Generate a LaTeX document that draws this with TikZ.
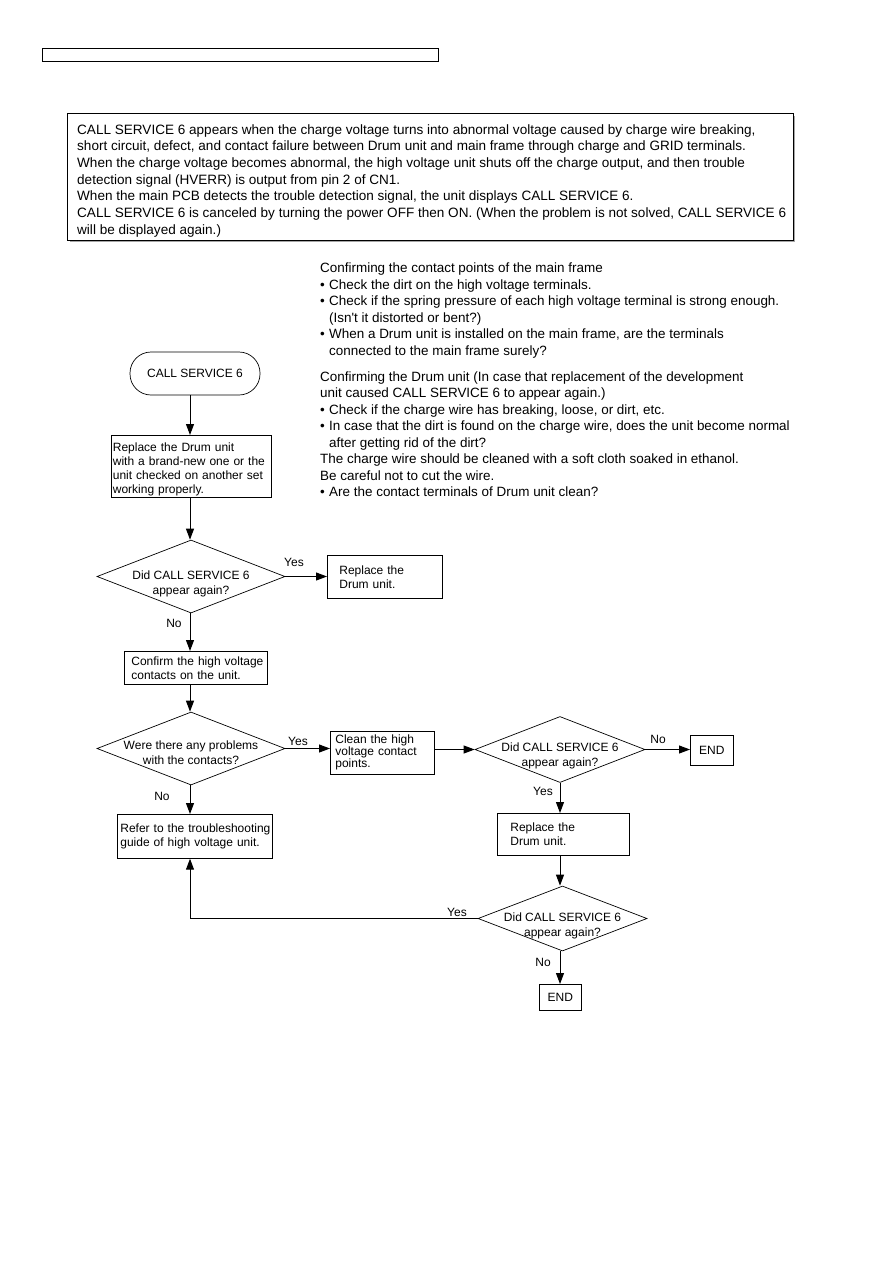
\documentclass[tikz,border=0pt]{standalone}
\usepackage{fontspec}
\setmainfont{Liberation Sans}[Ligatures=TeXOff]
\usetikzlibrary{arrows.meta,shapes.geometric,calc}
\begin{document}
\begin{tikzpicture}[x=1pt,y=-1pt,
  box/.style={draw, line width=0.7pt, rectangle, anchor=north west, inner ysep=0pt, align=left, font=\fontsize{12}{14}\selectfont},
  dia/.style={draw, diamond, line width=0.7pt, inner sep=0pt},
  dtext/.style={align=center, font=\fontsize{12}{15}\selectfont, yshift=-7pt},
  arr/.style={line width=1pt, -{Triangle[length=11pt,width=8pt]}},
  lbl/.style={font=\fontsize{12}{13}\selectfont, inner sep=0pt},
]
\useasboundingbox (0,0) rectangle (893,1263);
\fill[white] (0,0) rectangle (893,1263);

% header bar
\node[draw, line width=1.3pt, minimum width=396, minimum height=13, anchor=north west, inner sep=0pt] (hdr) at (42,48) {};

% intro box with shadow
\fill[gray!70] (70,116) rectangle (795,242);
\node[draw, fill=white, line width=0.7pt, anchor=north west, minimum width=726, minimum height=127, inner sep=0pt] (intro) at (67,113) {};
\node[anchor=north west, inner sep=0pt, align=left, font=\fontsize{13.55}{16.7}\selectfont] (introtext) at (77,124) {CALL SERVICE 6 appears when the charge voltage turns into abnormal voltage caused by charge wire breaking,\\
short circuit, defect, and contact failure between Drum unit and main frame through charge and GRID terminals.\\
When the charge voltage becomes abnormal, the high voltage unit shuts off the charge output, and then trouble\\
detection signal (HVERR) is output from pin 2 of CN1.\\
When the main PCB detects the trouble detection signal, the unit displays CALL SERVICE 6.\\
CALL SERVICE 6 is canceled by turning the power OFF then ON. (When the problem is not solved, CALL SERVICE 6\\
will be displayed again.)};

% right notes
\node[anchor=north west, inner sep=0pt, align=left, font=\fontsize{13.45}{16.5}\selectfont] (notes) at (320,263) {Confirming the contact points of the main frame\\
\makebox[9pt][l]{\textbullet}Check the dirt on the high voltage terminals.\\
\makebox[9pt][l]{\textbullet}Check if the spring pressure of each high voltage terminal is strong enough.\\
\hspace*{9pt}(Isn't it distorted or bent?)\\
\makebox[9pt][l]{\textbullet}When a Drum unit is installed on the main frame, are the terminals\\
\hspace*{9pt}connected to the main frame surely?\\[9.5pt]
Confirming the Drum unit (In case that replacement of the development\\
unit caused CALL SERVICE 6 to appear again.)\\
\makebox[9pt][l]{\textbullet}Check if the charge wire has breaking, loose, or dirt, etc.\\
\makebox[9pt][l]{\textbullet}In case that the dirt is found on the charge wire, does the unit become normal\\
\hspace*{9pt}after getting rid of the dirt?\\
The charge wire should be cleaned with a soft cloth soaked in ethanol.\\
Be careful not to cut the wire.\\
\makebox[9pt][l]{\textbullet}Are the contact terminals of Drum unit clean?};

% column coordinates
\coordinate (c1) at (190,0);
\coordinate (c2) at (560,0);

% flowchart nodes
\node[draw, line width=0.7pt, rounded corners=21pt, minimum width=130, minimum height=43, inner sep=0pt, font=\fontsize{12}{14}\selectfont] (start) at (195,373.5) {CALL SERVICE 6};
\node[box, minimum width=160, minimum height=62, inner xsep=1.5pt, text width=157] (rep1) at (111,435) {\rule{0pt}{15.5pt}Replace the Drum unit\\ \mbox{with a brand-new one or the}\\ unit checked on another set\\ working properly.};
\node[dia, minimum width=188, minimum height=73, label={[dtext]center:Did CALL SERVICE 6\\appear again?}] (d1) at (191,576.5) {};
\node[box, minimum width=115, minimum height=43, inner xsep=12pt, text width=91] (rd1) at (327,555) {Replace the\\Drum unit.};
\node[box, minimum width=143, minimum height=33, inner xsep=7pt, text width=129] (conf) at (124,651) {\mbox{Confirm the high voltage}\\ contacts on the unit.};
\node[dia, minimum width=188, minimum height=73, label={[dtext, yshift=2.5pt]center:Were there any problems\\with the contacts?}] (d2) at (191,748.5) {};
\node[box, minimum width=104, minimum height=43, inner xsep=5pt, text width=94, font=\fontsize{12}{12}\selectfont] (clean) at (330,731) {Clean the high\\voltage contact\\points.};
\node[box, minimum width=155, minimum height=44, inner xsep=3pt, text width=149] (refer) at (117,814) {\mbox{Refer to the troubleshooting}\\ guide of high voltage unit.};
\node[dia, minimum width=170, minimum height=66, label={[dtext, yshift=1pt]center:Did CALL SERVICE 6\\appear again?}] (d3) at (560,749.5) {};
\node[box, minimum width=43, minimum height=30, inner xsep=0pt, text width=43, align=center] (end1) at (690,735) {END};
\node[box, minimum width=132, minimum height=42, inner xsep=13pt, text width=106] (rep2) at (497,813) {Replace the\\Drum unit.};
\node[dia, minimum width=169, minimum height=65, label={[dtext]center:Did CALL SERVICE 6\\appear again?}] (d4) at (562.5,918.5) {};
\node[box, minimum width=42, minimum height=26, inner xsep=0pt, text width=42, align=center] (end2) at (539,984) {END};

% connectors
\draw[arr] (start.south -| c1) -- (rep1.north -| c1);
\draw[arr] (rep1.south -| c1) -- (d1.north -| c1);
\draw[arr] (d1.east) -- (rd1.west |- d1.east);
\draw[arr] (d1.south -| c1) -- (conf.north -| c1);
\draw[arr] (conf.south -| c1) -- (d2.north -| c1);
\draw[arr] (d2.east) -- (clean.west |- d2.east);
\draw[arr] (d2.south -| c1) -- (refer.north -| c1);
\draw[arr] (clean.east |- d3.west) -- (d3.west);
\draw[arr] (d3.east) -- (end1.west |- d3.east);
\draw[arr] (d3.south -| c2) -- (rep2.north -| c2);
\draw[arr] (rep2.south -| c2) -- (d4.north -| c2);
\draw[arr] (d4.south -| c2) -- (end2.north -| c2);
\draw[arr] (d4.west) -- (d4.west -| c1) -- (refer.south -| c1);

% connector labels
\node[lbl] (y1) at (294,562) {Yes};
\node[lbl] (n1) at (174,623) {No};
\node[lbl] (y2) at (298,741) {Yes};
\node[lbl] (n2) at (162,796) {No};
\node[lbl] (n3) at (658,739) {No};
\node[lbl] (y3) at (543,791) {Yes};
\node[lbl] (y4) at (457,912) {Yes};
\node[lbl] (n4) at (543,962) {No};
\end{tikzpicture}
\end{document}
